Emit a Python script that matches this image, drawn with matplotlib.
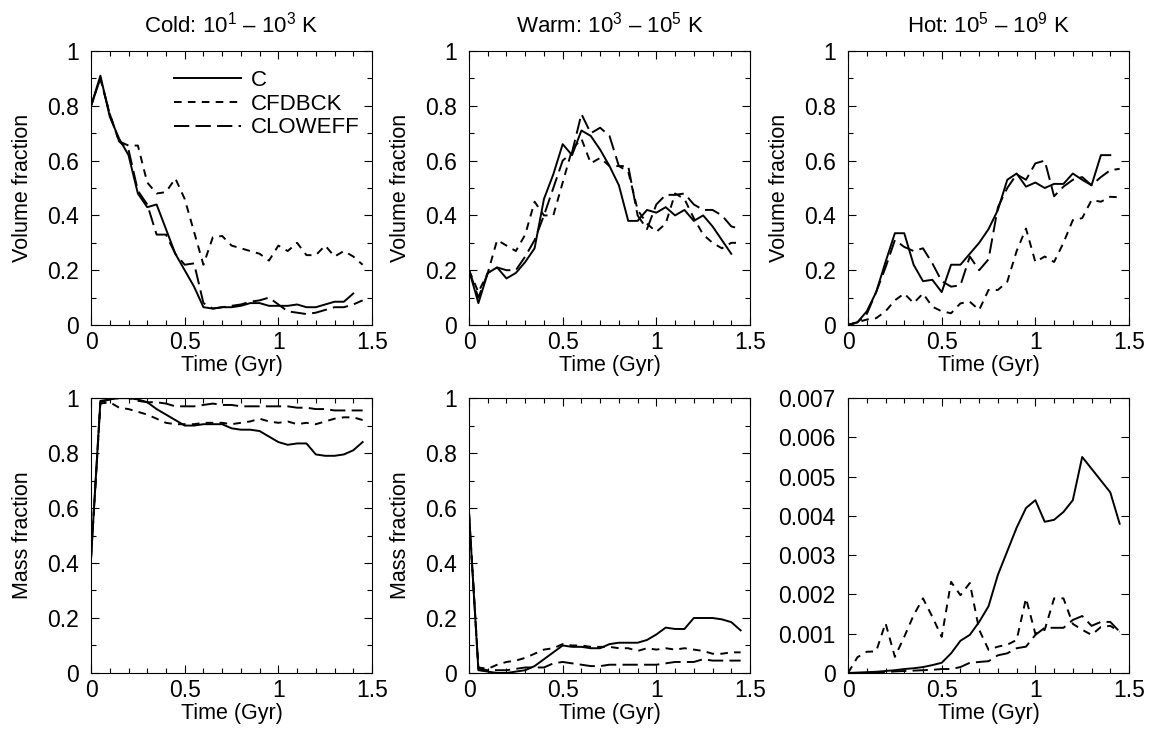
import numpy as np
import matplotlib
matplotlib.use("Agg")
import matplotlib.pyplot as plt
from matplotlib.ticker import MultipleLocator

plt.rcParams['font.family'] = ['Liberation Sans', 'DejaVu Sans']
plt.rcParams['mathtext.fontset'] = 'custom'
plt.rcParams['mathtext.rm'] = 'Liberation Sans'
plt.rcParams['mathtext.it'] = 'Liberation Sans:italic'
plt.rcParams['lines.scale_dashes'] = False

# time samples (Gyr)
time = [0.0, 0.05, 0.1, 0.15, 0.2, 0.25, 0.3, 0.35, 0.4, 0.45,
        0.5, 0.55, 0.6, 0.65, 0.7, 0.75, 0.8, 0.85, 0.9, 0.95,
        1.0, 1.05, 1.1, 1.15, 1.2, 1.25, 1.3, 1.35, 1.4, 1.45]

runs = ['C', 'CFDBCK', 'CLOWEFF']
titles = [r'Cold: 10$^{1}$ – 10$^{3}$ K',
          r'Warm: 10$^{3}$ – 10$^{5}$ K',
          r'Hot: 10$^{5}$ – 10$^{9}$ K']

# volume fractions
cold_vol_c = [0.80, 0.91, 0.76, 0.68, 0.62, 0.48, 0.43, 0.44, 0.35, 0.26,
              0.20, 0.14, 0.065, 0.06, 0.065, 0.065, 0.07, 0.08, 0.08, 0.07,
              0.07, 0.07, 0.075, 0.065, 0.065, 0.075, 0.085, 0.085, 0.115]
cold_vol_fdbck = [0.80, 0.90, 0.77, 0.67, 0.655, 0.655, 0.52, 0.48, 0.485, 0.535,
                  0.46, 0.34, 0.22, 0.32, 0.325, 0.29, 0.28, 0.27, 0.26, 0.235,
                  0.29, 0.27, 0.30, 0.255, 0.255, 0.29, 0.25, 0.27, 0.25, 0.22]
cold_vol_loweff = [0.80, 0.90, 0.77, 0.67, 0.64, 0.49, 0.44, 0.33, 0.33, 0.26,
                   0.22, 0.225, 0.08, 0.06, 0.065, 0.07, 0.075, 0.085, 0.09, 0.10,
                   0.075, 0.05, 0.045, 0.04, 0.045, 0.055, 0.065, 0.065, 0.075, 0.09]

warm_vol_c = [0.20, 0.08, 0.19, 0.21, 0.17, 0.19, 0.23, 0.28, 0.46, 0.55,
              0.66, 0.62, 0.71, 0.69, 0.64, 0.58, 0.51, 0.38, 0.38, 0.42,
              0.41, 0.43, 0.40, 0.42, 0.38, 0.40, 0.36, 0.31, 0.26]
warm_vol_fdbck = [0.20, 0.12, 0.19, 0.31, 0.29, 0.27, 0.33, 0.45, 0.40, 0.40,
                  0.52, 0.64, 0.68, 0.59, 0.61, 0.58, 0.58, 0.56, 0.42, 0.37,
                  0.34, 0.37, 0.48, 0.46, 0.39, 0.33, 0.30, 0.28, 0.30, 0.30]
warm_vol_loweff = [0.20, 0.10, 0.19, 0.21, 0.20, 0.20, 0.25, 0.31, 0.40, 0.50,
                   0.60, 0.63, 0.77, 0.70, 0.72, 0.69, 0.58, 0.58, 0.40, 0.35,
                   0.44, 0.475, 0.475, 0.48, 0.44, 0.42, 0.42, 0.40, 0.36, 0.35]

hot_vol_c = [0.0, 0.01, 0.05, 0.12, 0.23, 0.335, 0.335, 0.22, 0.16, 0.165,
             0.12, 0.22, 0.22, 0.26, 0.30, 0.35, 0.42, 0.53, 0.553, 0.505,
             0.52, 0.50, 0.515, 0.515, 0.553, 0.53, 0.51, 0.62, 0.62]
hot_vol_fdbck = [0.0, 0.01, 0.02, 0.025, 0.05, 0.09, 0.115, 0.08, 0.115, 0.067,
                 0.05, 0.043, 0.079, 0.085, 0.055, 0.128, 0.128, 0.158, 0.27, 0.352,
                 0.23, 0.25, 0.23, 0.30, 0.383, 0.39, 0.456, 0.45, 0.468, 0.466]
hot_vol_loweff = [0.0, 0.01, 0.04, 0.12, 0.21, 0.31, 0.285, 0.27, 0.28, 0.225,
                  0.16, 0.14, 0.145, 0.25, 0.20, 0.24, 0.43, 0.50, 0.55, 0.53,
                  0.59, 0.60, 0.47, 0.505, 0.53, 0.54, 0.51, 0.54, 0.565, 0.57]

# mass fractions
cold_mass_c = [0.42, 0.99, 0.995, 1.0, 1.0, 0.995, 0.985, 0.96, 0.94, 0.92,
               0.90, 0.90, 0.905, 0.905, 0.905, 0.89, 0.885, 0.885, 0.88, 0.86,
               0.84, 0.83, 0.835, 0.835, 0.795, 0.79, 0.79, 0.795, 0.81, 0.84]
cold_mass_fdbck = [0.42, 0.98, 0.985, 0.965, 0.96, 0.95, 0.94, 0.925, 0.91, 0.905,
                   0.905, 0.905, 0.91, 0.91, 0.91, 0.905, 0.91, 0.915, 0.925, 0.915,
                   0.91, 0.915, 0.905, 0.91, 0.905, 0.915, 0.925, 0.93, 0.93, 0.92]
cold_mass_loweff = [0.42, 0.985, 0.995, 1.0, 1.0, 0.99, 0.985, 0.985, 0.98, 0.97,
                    0.97, 0.97, 0.975, 0.98, 0.975, 0.975, 0.97, 0.97, 0.97, 0.97,
                    0.97, 0.97, 0.965, 0.965, 0.96, 0.96, 0.955, 0.955, 0.955, 0.955]

warm_mass_c = [0.58, 0.01, 0.005, 0.0, 0.0, 0.005, 0.01, 0.025, 0.05, 0.075,
               0.10, 0.095, 0.095, 0.09, 0.09, 0.105, 0.11, 0.11, 0.11, 0.12,
               0.14, 0.165, 0.16, 0.16, 0.20, 0.20, 0.20, 0.195, 0.185, 0.155]
warm_mass_fdbck = [0.58, 0.02, 0.015, 0.03, 0.04, 0.045, 0.055, 0.07, 0.085, 0.09,
                   0.105, 0.10, 0.10, 0.095, 0.095, 0.095, 0.09, 0.09, 0.08, 0.09,
                   0.085, 0.09, 0.085, 0.09, 0.085, 0.08, 0.07, 0.07, 0.075, 0.075]
warm_mass_loweff = [0.58, 0.015, 0.01, 0.01, 0.01, 0.015, 0.02, 0.02, 0.02, 0.035,
                    0.04, 0.035, 0.03, 0.025, 0.025, 0.03, 0.03, 0.03, 0.03, 0.03,
                    0.03, 0.035, 0.04, 0.04, 0.04, 0.05, 0.045, 0.045, 0.045, 0.045]

hot_mass_c = [0.0, 0.00001, 0.00002, 0.00003, 0.00005, 0.00007, 0.0001, 0.00012, 0.00015, 0.0002,
              0.00026, 0.0005, 0.00082, 0.00097, 0.0013, 0.0017, 0.0025, 0.0031, 0.0037, 0.0042,
              0.0044, 0.00385, 0.0039, 0.0041, 0.0044, 0.0055, 0.0052, 0.0049, 0.0046, 0.0038]
hot_mass_fdbck = [0.0, 0.0004, 0.00054, 0.00055, 0.00127, 0.00041, 0.00092, 0.00147, 0.0019, 0.00143,
                  0.00092, 0.00232, 0.00198, 0.00229, 0.0011, 0.00059, 0.00067, 0.00072, 0.00084, 0.0019,
                  0.001, 0.0011, 0.0019, 0.0019, 0.00125, 0.0011, 0.00097, 0.00117, 0.0012, 0.00105]
hot_mass_loweff = [0.0, 0.0, 0.0, 0.00001, 0.00002, 0.00004, 0.00005, 0.00006, 0.00007, 0.00008,
                   0.0001, 0.0001, 0.00015, 0.00026, 0.00028, 0.0003, 0.00045, 0.0005, 0.00063, 0.00067,
                   0.00097, 0.00115, 0.00115, 0.00115, 0.00135, 0.00145, 0.0012, 0.0013, 0.0013, 0.00105]

volume = [[cold_vol_c, cold_vol_fdbck, cold_vol_loweff],
          [warm_vol_c, warm_vol_fdbck, warm_vol_loweff],
          [hot_vol_c, hot_vol_fdbck, hot_vol_loweff]]
mass = [[cold_mass_c, cold_mass_fdbck, cold_mass_loweff],
        [warm_mass_c, warm_mass_fdbck, warm_mass_loweff],
        [hot_mass_c, hot_mass_fdbck, hot_mass_loweff]]

styles = [dict(ls='-'), dict(ls=(0, (5.5, 4.5))), dict(ls=(0, (11, 4.5)))]

fig = plt.figure(figsize=(11.51, 7.35), dpi=100)
lefts = [0.0791, 0.4075, 0.7368]
width = 0.2441
top_row = (0.5578, 0.3728)
bottom_row = (0.0844, 0.374)


def fmt_tick(v, pos):
    if abs(v) < 1e-12:
        return '0'
    if abs(v) < 0.01:
        return f'{v:.3f}'
    return f'{v:g}'


def style_axes(ax, ymax, ymajor, yminor):
    ax.set_xlim(0, 1.5)
    ax.set_ylim(0, ymax)
    ax.xaxis.set_major_locator(MultipleLocator(0.5))
    ax.xaxis.set_minor_locator(MultipleLocator(0.1))
    ax.yaxis.set_major_locator(MultipleLocator(ymajor))
    if yminor:
        ax.yaxis.set_minor_locator(MultipleLocator(yminor))
    else:
        ax.yaxis.set_minor_locator(plt.NullLocator())
    ax.tick_params(which='both', direction='in', top=True, right=True, labelsize=16.5)
    ax.tick_params(which='major', length=6, width=0.8)
    ax.tick_params(which='minor', length=3.5, width=0.8)
    ax.tick_params(axis='x', pad=4)
    ax.tick_params(axis='y', pad=9)
    ax.xaxis.set_major_formatter(plt.FuncFormatter(fmt_tick))
    ax.yaxis.set_major_formatter(plt.FuncFormatter(fmt_tick))
    ax.set_xlabel('Time (Gyr)', fontsize=15.5, labelpad=1)


for i in range(3):
    ax = fig.add_axes([lefts[i], top_row[0], width, top_row[1]])
    for j in range(3):
        vals = volume[i][j]
        ax.plot(time[:len(vals)], vals, color='black', lw=1.4, label=runs[j], **styles[j])
    style_axes(ax, 1.0, 0.2, 0.1)
    ax.set_ylabel('Volume fraction', fontsize=15.5, labelpad=10)
    ax.set_title(titles[i], fontsize=16, pad=13)
    if i == 0:
        ax.legend(loc='upper right', bbox_to_anchor=(1.0, 0.975), frameon=False,
                  fontsize=16, handlelength=3.0, handletextpad=0.45,
                  labelspacing=0.12, borderaxespad=0.15)

    ax = fig.add_axes([lefts[i], bottom_row[0], width, bottom_row[1]])
    for j in range(3):
        vals = mass[i][j]
        ax.plot(time[:len(vals)], vals, color='black', lw=1.4, **styles[j])
    if i < 2:
        style_axes(ax, 1.0, 0.2, 0.1)
        ax.set_ylabel('Mass fraction', fontsize=15.5, labelpad=10)
    else:
        style_axes(ax, 0.007, 0.001, None)

fig.savefig('out.png', dpi=100)
